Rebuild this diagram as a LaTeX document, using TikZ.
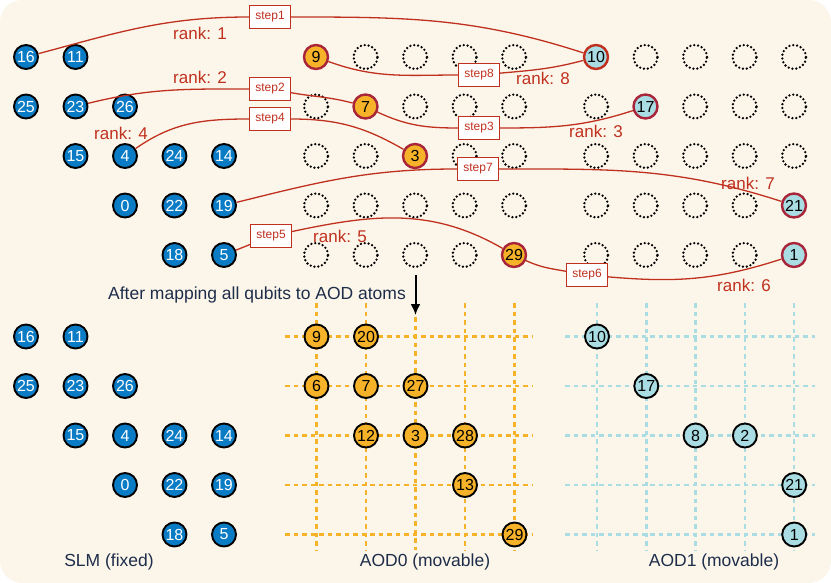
\documentclass[tikz,border=0pt]{standalone}
\usepackage{fontspec}
\setmainfont{Liberation Sans}
\usetikzlibrary{arrows.meta}
\definecolor{bgc}{HTML}{FCF6EA}
\definecolor{slmblue}{HTML}{0A7BC5}
\definecolor{aodorange}{HTML}{F6B329}
\definecolor{aodblue}{HTML}{A9DCE3}
\definecolor{rankred}{HTML}{C0301E}
\definecolor{ringred}{HTML}{A8253A}
\definecolor{navy}{HTML}{1E2D4A}
\tikzset{
 atom/.style={circle, minimum size=24pt, inner sep=0pt, line width=1.9pt, draw=black, font=\fontsize{16}{16}\selectfont},
 slm/.style={atom, fill=slmblue, text=white},
 orangeatom/.style={atom, fill=aodorange},
 blueatom/.style={atom, fill=aodblue},
 mapped/.style={draw=ringred, line width=2.4pt},
 site/.style={circle, minimum size=24pt, inner sep=0pt, draw=black, line width=2.6pt, dash pattern=on 0pt off 3.9pt, line cap=round},
 stepbox/.style={draw=rankred, fill=white, line width=1.1pt, minimum width=41pt, minimum height=23pt, inner sep=0pt, text=rankred, font=\fontsize{12}{12}\selectfont},
 rank/.style={text=rankred, font=\fontsize{17}{17}\selectfont},
 link/.style={draw=rankred, line width=1.3pt},
 lbl/.style={text=navy, font=\fontsize{17.5}{17.5}\selectfont},
 gridO/.style={draw=aodorange, line width=2.4pt, dash pattern=on 4.5pt off 4pt},
 gridB/.style={draw=aodblue, line width=2.4pt, dash pattern=on 4.5pt off 4pt},
}
\begin{document}
\begin{tikzpicture}[x=1pt,y=-1pt]
\useasboundingbox (0,0) rectangle (831,583);
\fill[bgc, rounded corners=22pt] (0,0) rectangle (831,583);

% ---------- top: SLM ----------
\foreach \n/\c/\r in {16/0/0,11/1/0,25/0/1,23/1/1,26/2/1,15/1/2,4/2/2,24/3/2,14/4/2,0/2/3,22/3/3,19/4/3,18/3/4,5/4/4}
  \node[slm] (s\n) at ({26+49.5*\c},{57+49.5*\r}) {\n};

% ---------- top: AOD0 sites ----------
\foreach \c/\r in {1/0,2/0,3/0,4/0,0/1,2/1,3/1,4/1,0/2,1/2,3/2,4/2,0/3,1/3,2/3,3/3,4/3,0/4,1/4,2/4,3/4}
  \node[site] (oa\c\r) at ({316+49.5*\c},{57+49.5*\r}) {};
% ---------- top: AOD1 sites ----------
\foreach \c/\r in {1/0,2/0,3/0,4/0,0/1,2/1,3/1,4/1,0/2,1/2,2/2,3/2,4/2,0/3,1/3,2/3,3/3,0/4,1/4,2/4,3/4}
  \node[site] (ob\c\r) at ({596+49.5*\c},{57+49.5*\r}) {};

% mapped atoms (top)
\node[orangeatom, mapped] (t9)  at (316,57) {9};
\node[orangeatom, mapped] (t7)  at (365.5,106.5) {7};
\node[orangeatom, mapped] (t3)  at (415,156) {3};
\node[orangeatom, mapped] (t29) at (514,255) {29};
\node[blueatom, mapped, draw=rankred] (t10) at (596,57) {10};
\node[blueatom, mapped] (t17) at (645.5,106.5) {17};
\node[blueatom, mapped] (t21) at (794,205.5) {21};
\node[blueatom, mapped] (t1)  at (794,255) {1};

% step boxes
\node[stepbox] (st1) at (270,17) {step1};
\node[stepbox] (st2) at (270,89) {step2};
\node[stepbox] (st4) at (270,119) {step4};
\node[stepbox] (st5) at (271,236) {step5};
\node[stepbox] (st8) at (479,75) {step8};
\node[stepbox] (st3) at (479,128) {step3};
\node[stepbox] (st7) at (478,169) {step7};
\node[stepbox] (st6) at (587,275) {step6};

% links
\draw[link] (s16) to[out=15,in=180] (st1);
\draw[link] (st1) to[out=0,in=162] (t10);
\draw[link] (s23) to[out=14,in=180] (st2);
\draw[link] (st2) to[out=-10,in=165] (t7);
\draw[link] (t7) to[out=-25,in=180] (st3);
\draw[link] (st3) to[out=0,in=198] (t17);
\draw[link] (s4) to[out=35,in=180] (st4);
\draw[link] (st4) to[out=0,in=150] (t3);
\draw[link] (s19) to[out=14,in=180] (st7);
\draw[link] (st7) to[out=0,in=162] (t21);
\draw[link] (s5) -- (st5);
\draw[link] (st5) to[out=12,in=150] (t29);
\draw[link] (t29) to[out=-25,in=170] (st6);
\draw[link] (st6) to[out=-5,in=198] (t1);
\draw[link] (t9) to[out=-20,in=180] (st8);
\draw[link] (st8) to[out=5,in=195] (t10);

% rank labels
\node[rank] (r1) at (200,33) {rank: 1};
\node[rank] (r2) at (200,77) {rank: 2};
\node[rank] (r4) at (121,133) {rank: 4};
\node[rank] (r3) at (596,131) {rank: 3};
\node[rank] (r5) at (340,236) {rank: 5};
\node[rank] (r6) at (744,285) {rank: 6};
\node[rank] (r7) at (748,183) {rank: 7};
\node[rank] (r8) at (543,78) {rank: 8};

% ---------- bottom: grids ----------
\foreach \c in {0,1,3,4} {
  \draw[gridO] ({316.5+49.5*\c},303) -- ({316.5+49.5*\c},550);
}
\draw[gridO] (415.5,317) -- (415.5,550);
\foreach \c in {0,...,4} {
  \draw[gridB] ({597+49.3*\c},303) -- ({597+49.3*\c},550);
}
\foreach \r in {0,...,4} {
  \draw[gridO] (285,{336.5+49.5*\r}) -- (533,{336.5+49.5*\r});
  \draw[gridB] (565,{336.5+49.5*\r}) -- (815,{336.5+49.5*\r});
}

% caption + arrow
\node[lbl] (after) at (257,295) {After mapping all qubits to AOD atoms};
\coordinate (arrS) at (415.5,275);
\coordinate (arrE) at (415.5,315);
\draw[line width=2pt, -{Latex[length=11pt,width=10pt]}] (arrS) -- (arrE);

% bottom SLM
\foreach \n/\c/\r in {16/0/0,11/1/0,25/0/1,23/1/1,26/2/1,15/1/2,4/2/2,24/3/2,14/4/2,0/2/3,22/3/3,19/4/3,18/3/4,5/4/4}
  \node[slm] (b\n) at ({26+49.5*\c},{336.5+49.5*\r}) {\n};
% bottom AOD0
\foreach \n/\c/\r in {9/0/0,20/1/0,6/0/1,7/1/1,27/2/1,12/1/2,3/2/2,28/3/2,13/3/3,29/4/4}
  \node[orangeatom] (bo\n) at ({316.5+49.5*\c},{336.5+49.5*\r}) {\n};
% bottom AOD1
\foreach \n/\c/\r in {10/0/0,17/1/1,8/2/2,2/3/2,21/4/3,1/4/4}
  \node[blueatom] (bb\n) at ({597+49.3*\c},{336.5+49.5*\r}) {\n};

\node[lbl] (slmlbl) at (109,562) {SLM (fixed)};
\node[lbl] (aod0lbl) at (425,562) {AOD0 (movable)};
\node[lbl] (aod1lbl) at (714,562) {AOD1 (movable)};
\end{tikzpicture}
\end{document}
